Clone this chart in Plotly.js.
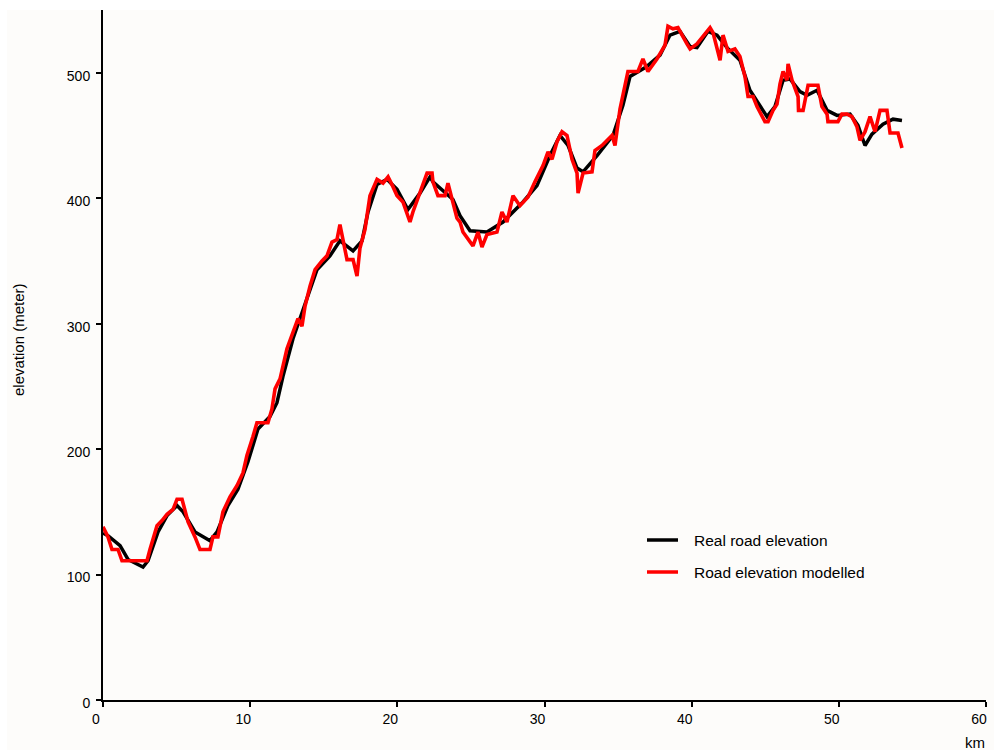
<!DOCTYPE html>
<html>
<head>
<meta charset="utf-8">
<script src="https://cdn.plot.ly/plotly-3.0.1.min.js"></script>
<style>
  html, body { margin: 0; padding: 0; background: #ffffff; }
  #chart { width: 994px; height: 753px; }
</style>
</head>
<body>
<div id="chart"></div>
<script>
// Real road elevation (km, meter)
const realKm = [0, 0.34, 1.16, 1.70, 2.72, 3.06, 3.74, 4.35, 5.03, 5.44, 6.25, 7.27, 7.75, 8.49, 9.17, 9.85, 10.53, 11.35, 11.82, 12.23, 12.91, 13.86, 14.54, 15.42, 16.10, 16.99, 17.60, 18.01, 18.62, 19.30, 19.98, 20.72, 21.54, 22.22, 22.42, 23.78, 24.26, 24.94, 26.09, 27.18, 28.54, 29.49, 30.37, 31.05, 31.60, 32.21, 32.62, 33.57, 34.65, 35.33, 35.81, 36.96, 37.85, 38.53, 39.21, 39.89, 40.36, 41.11, 41.72, 42.40, 43.28, 43.96, 44.64, 45.12, 45.66, 46.21, 46.68, 47.36, 47.84, 48.52, 49.20, 49.88, 50.76, 51.30, 51.78, 52.25, 53.00, 53.68, 54.29];
const realElev = [133, 131, 123, 112, 106, 111, 134, 147, 155, 150, 134, 127, 134, 155, 168, 190, 216, 226, 237, 258, 288, 320, 343, 354, 366, 358, 366, 389, 411, 415, 407, 391, 404, 417, 413, 399, 386, 374, 373, 381, 397, 410, 434, 450, 442, 424, 421, 434, 450, 474, 497, 505, 514, 530, 533, 521, 520, 533, 530, 520, 510, 486, 473, 465, 473, 494, 495, 485, 482, 486, 470, 466, 467, 458, 442, 451, 459, 463, 462];

// Road elevation modelled (km, meter)
const modelKm = [0, 0.34, 0.61, 1.02, 1.29, 2.99, 3.19, 3.67, 4.01, 4.35, 4.76, 5.03, 5.37, 5.78, 6.25, 6.59, 7.27, 7.47, 7.81, 8.15, 8.63, 9.11, 9.51, 9.78, 10.19, 10.46, 11.21, 11.48, 11.69, 12.03, 12.50, 12.91, 13.25, 13.52, 13.73, 14.07, 14.41, 14.88, 15.22, 15.56, 15.90, 16.10, 16.31, 16.58, 16.99, 17.26, 17.46, 17.80, 18.14, 18.62, 19.03, 19.37, 19.71, 19.98, 20.38, 20.86, 21.06, 21.68, 22.02, 22.36, 22.42, 22.76, 23.24, 23.44, 23.71, 24.05, 24.26, 24.46, 25.14, 25.48, 25.75, 26.09, 26.77, 27.11, 27.45, 27.86, 28.33, 28.88, 29.35, 29.90, 30.24, 30.51, 30.85, 31.19, 31.53, 31.87, 32.21, 32.28, 32.62, 33.23, 33.43, 33.91, 34.59, 34.79, 35.13, 35.67, 36.35, 36.69, 37.03, 37.64, 38.19, 38.39, 38.73, 39.07, 39.68, 39.89, 40.36, 40.91, 41.25, 41.45, 41.79, 41.93, 42.13, 42.47, 42.94, 43.28, 43.62, 43.83, 44.17, 44.44, 44.98, 45.19, 45.53, 45.80, 46.00, 46.21, 46.48, 46.55, 46.82, 47.23, 47.26, 47.57, 47.91, 48.58, 48.85, 49.20, 49.26, 49.94, 50.21, 50.55, 50.89, 51.23, 51.44, 51.78, 52.12, 52.46, 52.80, 53.27, 53.48, 54.02, 54.29];
const modelElev = [138, 130, 120, 120, 111, 111, 120, 139, 143, 148, 152, 160, 160, 142, 130, 120, 120, 130, 130, 150, 162, 171, 181, 195, 210, 221, 221, 232, 248, 256, 280, 293, 304, 298, 314, 330, 343, 350, 354, 365, 367, 379, 367, 351, 351, 338, 360, 375, 402, 415, 412, 417, 409, 402, 397, 381, 389, 409, 420, 420, 413, 402, 402, 412, 399, 384, 381, 373, 362, 373, 361, 371, 373, 389, 381, 402, 394, 401, 413, 426, 437, 431, 445, 453, 450, 431, 420, 404, 420, 421, 438, 442, 450, 442, 471, 501, 501, 511, 501, 511, 522, 537, 535, 536, 523, 519, 523, 531, 536, 532, 517, 510, 530, 517, 519, 513, 497, 481, 481, 473, 461, 461, 470, 475, 491, 501, 494, 507, 494, 481, 470, 470, 490, 490, 473, 467, 461, 461, 467, 467, 465, 457, 446, 453, 465, 453, 470, 470, 452, 452, 440];

const seriesNames = ["Real road elevation", "Road elevation modelled"];
const seriesColors = ["#000000", "#ff0000"];
const xTicks = [0, 10, 20, 30, 40, 50, 60];
const yTicks = [0, 100, 200, 300, 400, 500];

const FONT = "Liberation Sans, Arial, sans-serif";

const traces = [
  { x: realKm, y: realElev, type: "scatter", mode: "lines", name: seriesNames[0],
    line: { color: seriesColors[0], width: 3.5, shape: "linear" }, showlegend: false, hoverinfo: "x+y" },
  { x: modelKm, y: modelElev, type: "scatter", mode: "lines", name: seriesNames[1],
    line: { color: seriesColors[1], width: 3.6, shape: "linear" }, showlegend: false, hoverinfo: "x+y" }
];

const L = 103, R = 8, T = 10, B = 53, W = 994, H = 753;
const pw = W - L - R, ph = H - T - B;
const px = v => (v - L) / pw;          // pixel x -> paper x
const py = v => (H - B - v) / ph;      // pixel y -> paper y

const layout = {
  width: W, height: H,
  margin: { l: L, r: R, t: T, b: B, pad: 0 },
  paper_bgcolor: "#ffffff",
  plot_bgcolor: "rgba(0,0,0,0)",
  font: { family: FONT, size: 14, color: "#000000" },
  showlegend: false,
  xaxis: {
    range: [0, 60], tickvals: xTicks, ticktext: xTicks.map(String),
    showgrid: false, zeroline: false, showline: true, linecolor: "#000", linewidth: 2,
    ticks: "outside", ticklen: 5, tickwidth: 2, tickcolor: "#000",
    tickfont: { family: FONT, size: 14, color: "#000" },
    ticklabelshift: -7, fixedrange: true
  },
  yaxis: {
    range: [0, 550], tickvals: yTicks, ticktext: yTicks.map(String),
    showgrid: false, zeroline: false, showline: true, linecolor: "#000", linewidth: 2,
    ticks: "outside", ticklen: 5, tickwidth: 2, tickcolor: "#000",
    tickfont: { family: FONT, size: 14, color: "#000" },
    ticklabelshift: 3, ticklabelstandoff: 3, fixedrange: true
  },
  shapes: [
    { type: "rect", xref: "paper", yref: "paper", x0: px(7), x1: px(994), y0: py(750), y1: py(10),
      fillcolor: "#fdfcfa", line: { width: 0 }, layer: "below" },
    { type: "line", xref: "paper", yref: "paper", x0: px(647), x1: px(678), y0: py(540), y1: py(540),
      line: { color: seriesColors[0], width: 3.5 } },
    { type: "line", xref: "paper", yref: "paper", x0: px(647), x1: px(678), y0: py(572), y1: py(572),
      line: { color: seriesColors[1], width: 3.5 } }
  ],
  annotations: [
    { text: seriesNames[0], xref: "paper", yref: "paper", x: px(692), y: py(540), xanchor: "left", yanchor: "middle",
      showarrow: false, font: { family: FONT, size: 15.5, color: "#000" } },
    { text: seriesNames[1], xref: "paper", yref: "paper", x: px(692), y: py(572), xanchor: "left", yanchor: "middle",
      showarrow: false, font: { family: FONT, size: 15.5, color: "#000" } },
    { text: "km", xref: "paper", yref: "paper", x: px(987), y: py(742), xanchor: "right", yanchor: "middle",
      showarrow: false, font: { family: FONT, size: 15, color: "#000" } },
    { text: "elevation (meter)", xref: "paper", yref: "paper", x: px(18), y: py(340), xanchor: "center", yanchor: "middle",
      textangle: -90, showarrow: false, font: { family: FONT, size: 15, color: "#000" } }
  ]
};

Plotly.newPlot("chart", traces, layout, { displayModeBar: false, staticPlot: true });
</script>
</body>
</html>
